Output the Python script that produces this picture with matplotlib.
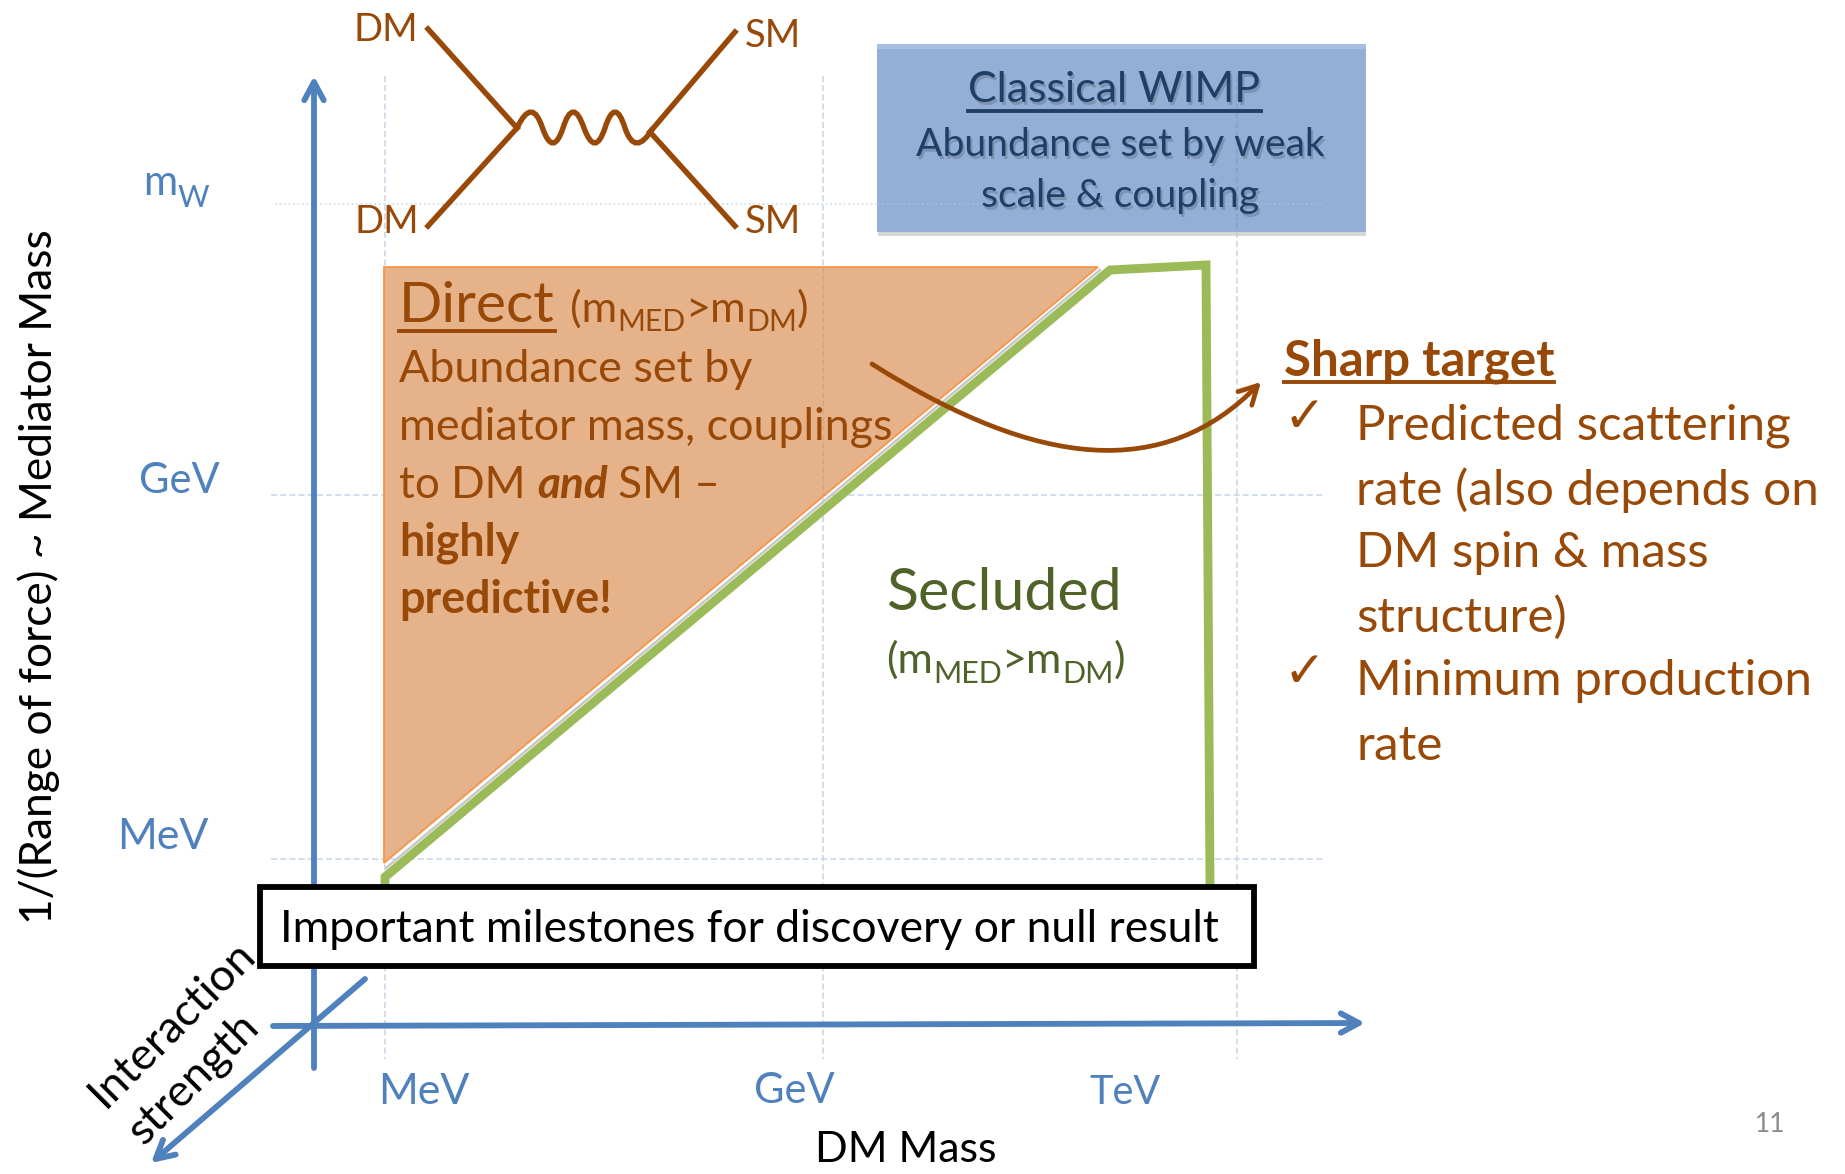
import matplotlib
matplotlib.use('Agg')
import matplotlib.pyplot as plt
from matplotlib.patches import Polygon, Rectangle, FancyArrowPatch, PathPatch
from matplotlib.path import Path

plt.rcParams['font.family'] = ['Lato', 'DejaVu Sans']

BLUE = '#4F81BD'
BROWN = '#984807'
GREEN = '#9BBB59'
DARKGREEN = '#4F6228'
NAVY = '#1F3F66'

# slide is laid out in pixels of the picture
grid_x = [385, 823, 1237]
grid_y = [204, 495, 859]
grid_x_labels = ['MeV', 'GeV', 'TeV']
grid_x_label_pos = [(378, 1092), (754, 1091), (1089, 1093)]
grid_x_label_size = [31, 30, 28.5]
grid_y_labels = ['GeV', 'MeV']
grid_y_label_pos = [(139, 481), (117, 837)]
grid_y_label_size = [30, 31]

direct_x = [384, 1098, 384]
direct_y = [267, 267, 863]
secluded_x = [385, 385, 1110, 1206, 1210]
secluded_y = [885, 877, 270, 265, 885]
gap_x = [386, 1100]
gap_y = [868, 270]

fermion_lines = [((428, 29), (517, 128)), ((428, 226), (517, 128)),
                 ((735, 32), (650, 132)), ((735, 226), (650, 132))]
fermion_labels = [('DM', 386, 30), ('DM', 387, 222), ('SM', 773, 36), ('SM', 773, 222)]
wiggle_x = [517, 532, 553, 573, 595, 615, 635, 653]
wiggle_y = [128, 96, 158, 96, 158, 96, 158, 128]

direct_lines = ['Abundance set by', 'mediator mass, couplings']
sharp_lines = ['Predicted scattering', 'rate (also depends on', 'DM spin & mass',
               'structure)', 'Minimum production', 'rate']
sharp_y = [426, 490, 553, 617, 681, 746]
check_y = [418, 673]

fig = plt.figure(figsize=(18.45, 11.74), dpi=100)
ax = fig.add_axes([0, 0, 1, 1])
ax.set_xlim(0, 1845)
ax.set_ylim(1174, 0)
ax.axis('off')


def run(x, y, parts, color, size, **kw):
    # draw text pieces one after the other on the same baseline
    r = fig.canvas.get_renderer()
    inv = ax.transData.inverted()
    for p in parts:
        s = p[0]
        opts = dict(p[1]) if len(p) > 1 else {}
        sz = opts.pop('size', size)
        dy = opts.pop('dy', 0)
        t = ax.text(x, y + dy, s, color=color, fontsize=sz, va='baseline', ha='left', **opts, **kw)
        bb = t.get_window_extent(r)
        x0 = inv.transform((bb.x0, bb.y0))[0]
        x1 = inv.transform((bb.x1, bb.y0))[0]
        x += x1 - x0
    return x


def box_text(x, y, s, size):
    # soft shadow under the text in the WIMP box
    ax.text(x + 2, y + 3, s, color='#5F6F85', alpha=0.45, fontsize=size, ha='center', va='center', zorder=7)
    ax.text(x, y, s, color=NAVY, fontsize=size, ha='center', va='center', zorder=7)


# grid
for x in grid_x:
    ax.plot([x, x], [76, 1059], color='#C6D5E8', lw=1.1, ls=(0, (4, 2)), zorder=1)
ax.plot([275, 1324], [grid_y[0]] * 2, color='#D5DEEA', lw=1.3, ls=(0, (1, 1.5)), zorder=1)
for y in grid_y[1:]:
    ax.plot([271, 1324], [y, y], color='#C6D5E8', lw=1.1, ls=(0, (4, 2)), zorder=1)

# direct triangle and secluded outline
ax.add_patch(Polygon(list(zip(direct_x, direct_y)), closed=True, fc='#E5B28A', ec='#F79646', lw=1.3, zorder=2))
ax.plot([grid_x[1]] * 2, [267, 495], color='#B99A80', lw=1, ls=(0, (4, 2)), alpha=0.5, zorder=2)
ax.plot(gap_x, gap_y, color='#C8C8C8', lw=1.8, zorder=2)
ax.plot(secluded_x, secluded_y, color=GREEN, lw=6.4, solid_joinstyle='miter', zorder=3)

# axes arrows
for a, b in [((314, 1068), (314, 76)), ((273, 1026), (1365, 1023)), ((365, 979), (151, 1163))]:
    ax.add_patch(FancyArrowPatch(a, b, arrowstyle='->,head_length=13,head_width=7',
                                 color=BLUE, lw=4.2, shrinkA=0, shrinkB=0, zorder=4))

# feynman diagram
for a, b in fermion_lines:
    ax.plot([a[0], b[0]], [a[1], b[1]], color=BROWN, lw=3.9, zorder=5)
verts = [(wiggle_x[0], wiggle_y[0])]
codes = [Path.MOVETO]
for i in range(1, len(wiggle_x) - 1):
    verts.append((wiggle_x[i], wiggle_y[i]))
    codes.append(Path.CURVE3)
    if i < len(wiggle_x) - 2:
        verts.append(((wiggle_x[i] + wiggle_x[i + 1]) / 2, 128))
    else:
        verts.append((wiggle_x[i + 1], wiggle_y[i + 1]))
    codes.append(Path.CURVE3)
ax.add_patch(PathPatch(Path(verts, codes), fc='none', ec=BROWN, lw=3.9, zorder=5))
for s, x, y in fermion_labels:
    ax.text(x, y, s, color=BROWN, fontsize=27.5, ha='center', va='center', zorder=6)

# classical WIMP box
ax.add_patch(Rectangle((878, 50), 488, 186, fc='#BBBBBB', ec='none', alpha=0.6, zorder=5))
ax.add_patch(Rectangle((877, 44), 489, 188, fc='#93AFD6', ec='none', zorder=6))
ax.add_patch(Rectangle((877, 44), 489, 5, fc='#A6BFE0', ec='none', zorder=6))
ax.plot([grid_x[2]] * 2, [76, 232], color='#84A0C8', lw=1.1, ls=(0, (4, 2)), zorder=6)
ax.plot([877, 1324], [grid_y[0]] * 2, color='#A5BDDC', lw=1.3, ls=(0, (1, 1.5)), zorder=6)
box_text(1114, 90, 'Classical WIMP', 31)
ax.plot([968, 1261], [111, 111], color=NAVY, lw=2.8, zorder=7)
box_text(1120, 145, 'Abundance set by weak', 28.2)
box_text(1120, 196, 'scale & coupling', 28.2)

# y tick labels
run(143, 195, [('m',), ('W', dict(size=22, dy=12))], BLUE, 30, zorder=6)
for s, p, z in zip(grid_y_labels, grid_y_label_pos, grid_y_label_size):
    ax.text(p[0], p[1], s, color=BLUE, fontsize=z, ha='left', va='center', zorder=6)
for s, p, z in zip(grid_x_labels, grid_x_label_pos, grid_x_label_size):
    ax.text(p[0], p[1], s, color=BLUE, fontsize=z, ha='left', va='center', zorder=6)

# direct text
end = run(399, 322, [('Direct',)], BROWN, 41, zorder=7)
ax.plot([399, end], [331, 331], color=BROWN, lw=2.8, zorder=7)
run(570, 322, [('(m',), ('MED', dict(size=21.7, dy=9)), ('>m',), ('DM', dict(size=21.7, dy=9)), (')',)], BROWN, 31.2, zorder=7)
for s, y in zip(direct_lines, [382, 440]):
    ax.text(399, y, s, color=BROWN, fontsize=32.3, va='baseline', zorder=7)
run(399, 498, [('to DM ',), ('and', dict(fontweight='bold', fontstyle='italic')), (' SM –',)], BROWN, 31.8, zorder=7)
ax.text(399, 555, 'highly', color=BROWN, fontsize=32.3, fontweight='bold', va='baseline', zorder=7)
ax.text(399, 613, 'predictive!', color=BROWN, fontsize=32.3, fontweight='bold', va='baseline', zorder=7)

# secluded text
ax.text(886, 593, 'Secluded', color=DARKGREEN, fontsize=42.5, va='center', zorder=7)
run(886, 673, [('(m',), ('MED', dict(size=22, dy=10)), ('>m',), ('DM', dict(size=22, dy=10)), (')',)], DARKGREEN, 31, zorder=7)

# curved arrow
curve = Path([(872, 364), (1040, 470), (1165, 480), (1261, 382)],
             [Path.MOVETO, Path.CURVE4, Path.CURVE4, Path.CURVE4])
ax.add_patch(FancyArrowPatch(path=curve, arrowstyle='->,head_length=13,head_width=7',
                             color=BROWN, lw=3.4, zorder=8))

# sharp target text
ax.text(1284, 361, 'Sharp target', color=BROWN, fontsize=35.5, fontweight='bold', va='center', zorder=7)
ax.plot([1284, 1554], [382, 382], color=BROWN, lw=2.8, zorder=7)
for y in check_y:
    ax.text(1304, y, '\u2713', color=BROWN, fontsize=36, ha='center', va='center', family='DejaVu Sans', zorder=7)
for s, y in zip(sharp_lines, sharp_y):
    ax.text(1356, y, s, color=BROWN, fontsize=35.6, va='center', zorder=7)

# milestone box
ax.add_patch(Rectangle((260, 887), 994, 79, fc='white', ec='black', lw=4.2, zorder=9))
ax.text(280, 929, 'Important milestones for discovery or null result', color='black', fontsize=32, va='center', zorder=10)

# axis titles
ax.text(39, 577, '1/(Range of force) ~ Mediator Mass', color='black', fontsize=31.9, rotation=90, ha='center', va='center', zorder=6)
ax.text(906, 1150, 'DM Mass', color='black', fontsize=31, ha='center', va='center', zorder=6)
ax.text(172, 1024, 'Interaction', color='black', fontsize=32.5, rotation=45, ha='center', va='center', zorder=6)
ax.text(194, 1079, 'strength', color='black', fontsize=32.5, rotation=45, ha='center', va='center', zorder=6)
ax.text(1770, 1124, '11', color='#8B8B8B', fontsize=19, ha='center', va='center', zorder=6)

fig.savefig('out.png', dpi=100)
